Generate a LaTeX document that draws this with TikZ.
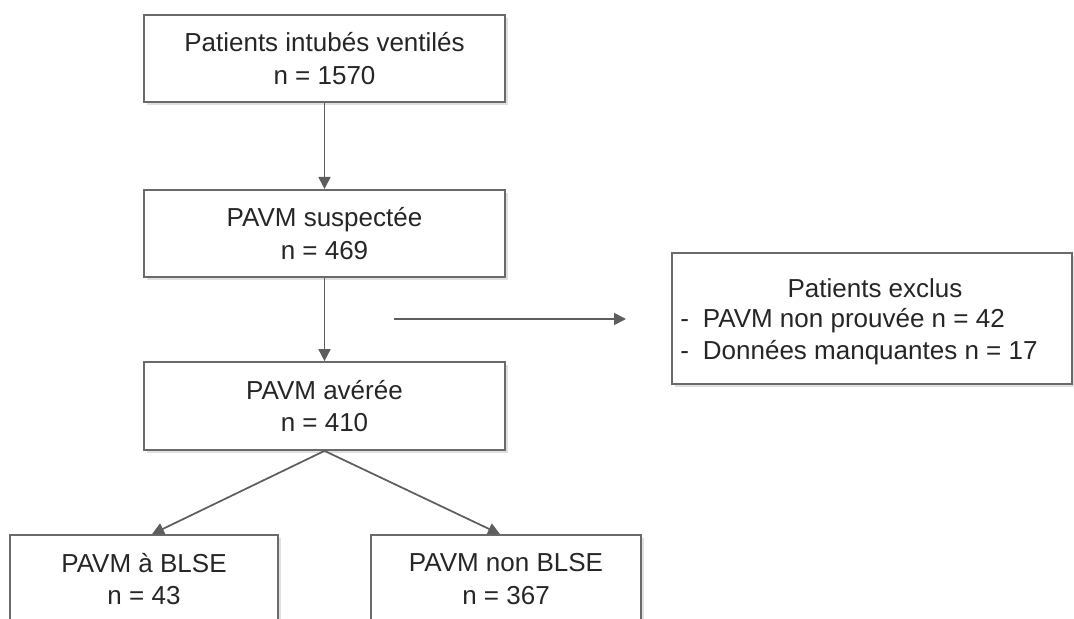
\documentclass[tikz,border=0pt]{standalone}
\usepackage{fontspec}
\setmainfont{Liberation Sans}
\usetikzlibrary{arrows.meta,shadows,calc}
\definecolor{boxline}{HTML}{6A6A6A}
\definecolor{arrowcol}{HTML}{5E5E5E}
\definecolor{txtcol}{HTML}{262626}
\tikzset{
  flowbox/.style={draw=boxline, line width=1.3pt, fill=white, inner sep=0pt,
    align=center, text=txtcol, font=\fontsize{19.5}{24.5}\selectfont,
    drop shadow={shadow xshift=2pt, shadow yshift=-2pt, opacity=0.12, fill=black}},
  txt/.style={inner sep=0pt, text=txtcol, font=\fontsize{19.5}{24.5}\selectfont},
  flowarrow/.style={draw=arrowcol, line width=1.3pt, -{Triangle[length=9pt,width=9pt]}}
}
\begin{document}
\begin{tikzpicture}[x=0.75pt,y=-0.75pt]
\useasboundingbox (0,0) rectangle (1074,618);
\clip (0,0) rectangle (1074,618);
\fill[white] (0,0) rectangle (1074,618);
% main column
\node[flowbox, minimum width=270.75pt, minimum height=65.5pt] (b1) at (324.5,58.5) {Patients intubés ventilés\\n = 1570};
\node[flowbox, minimum width=270.75pt, minimum height=65.5pt] (b2) at (324.5,233.5) {PAVM suspectée\\n = 469};
\node[flowbox, minimum width=270.75pt, minimum height=66pt] (b3) at (324.5,406) {PAVM avérée\\n = 410};
\node[flowbox, minimum width=201pt, minimum height=66pt] (b4) at (144,579) {PAVM à BLSE\\n = 43};
\node[flowbox, minimum width=202.5pt, minimum height=66pt] (b5) at (506,579) {PAVM non BLSE\\n = 367};
% exclusion box
\node[flowbox, minimum width=300pt, minimum height=98.25pt] (excl) at (872,318.5) {};
\node[txt] (exT) at (875,288) {Patients exclus};
\node[txt, anchor=west] (ex1) at (680,320.5) {\makebox[17pt][l]{-}PAVM non prouvée n = 42};
\node[txt, anchor=west] (ex2) at (680,353) {\makebox[17pt][l]{-}Données manquantes n = 17};
% connectors
\draw[flowarrow] (b1.south) -- (b2.north);
\draw[flowarrow] (b2.south) -- (b3.north);
\draw[flowarrow] (b3.south) -- ([xshift=6pt]b4.north);
\draw[flowarrow] (b3.south) -- ([xshift=-4.5pt]b5.north);
\coordinate (exS) at (394,319);
\coordinate (exE) at (626,319);
\draw[flowarrow] (exS) -- (exE);
\end{tikzpicture}
\end{document}
